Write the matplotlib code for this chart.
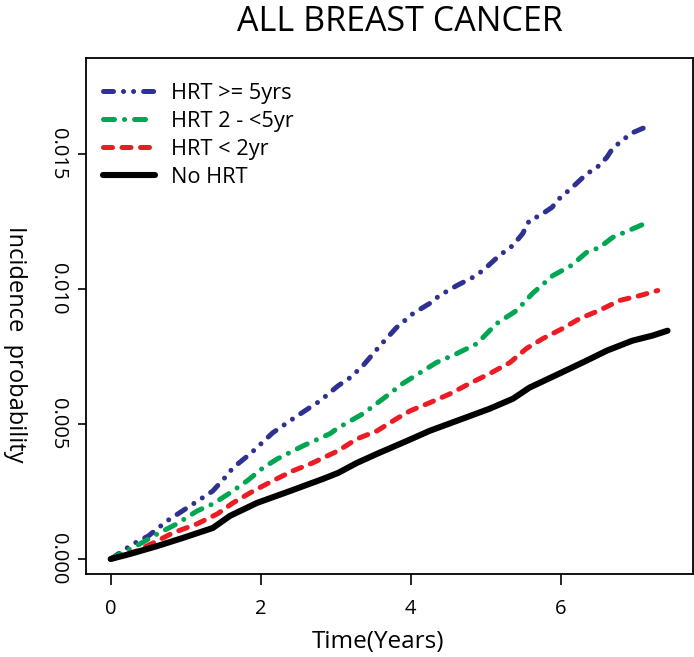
import matplotlib
matplotlib.use('Agg')
import matplotlib.pyplot as plt

plt.rcParams['font.family'] = ['Open Sans', 'DejaVu Sans']

# curves (time in years, incidence probability)
blue_x = [0, 0.30, 0.50, 0.75, 1.06, 1.36, 1.52, 1.63, 1.86, 2.16, 2.43, 2.63, 2.79,
          3.03, 3.19, 3.36, 3.59, 3.81, 4.03, 4.25, 4.38, 4.61, 4.82, 4.96, 5.18,
          5.36, 5.49, 5.58, 5.72, 5.88, 5.98, 6.15, 6.35, 6.47, 6.61, 6.69, 6.82,
          6.94, 7.09, 7.22]
blue_y = [0, 0.00056, 0.00085, 0.00141, 0.00197, 0.00252, 0.00301, 0.00338, 0.00390,
          0.00468, 0.00520, 0.00557, 0.00586, 0.00642, 0.00672, 0.00716, 0.00791,
          0.00858, 0.00910, 0.00947, 0.00976, 0.01013, 0.01043, 0.01069, 0.01125,
          0.01162, 0.01206, 0.01255, 0.01273, 0.01303, 0.01336, 0.01377, 0.01429,
          0.01448, 0.01488, 0.01522, 0.01552, 0.01578, 0.01596, 0.01607]

green_x = [0, 0.39, 0.62, 0.88, 1.15, 1.36, 1.59, 1.82, 2.03, 2.22, 2.56, 2.92, 3.03,
           3.36, 3.63, 3.89, 4.34, 4.61, 4.88, 5.14, 5.41, 5.62, 5.89, 6.14, 6.34,
           6.51, 6.69, 6.91, 7.15]
green_y = [0, 0.00056, 0.00093, 0.00130, 0.00178, 0.00204, 0.00245, 0.00290, 0.00338,
           0.00371, 0.00419, 0.00464, 0.00486, 0.00538, 0.00594, 0.00650, 0.00728,
           0.00761, 0.00798, 0.00872, 0.00921, 0.00984, 0.01050, 0.01088, 0.01136,
           0.01154, 0.01192, 0.01218, 0.01247]

red_x = [0, 0.35, 0.62, 0.83, 1.15, 1.42, 1.63, 1.90, 2.16, 2.43, 2.69, 3.03, 3.28,
         3.55, 3.81, 3.99, 4.25, 4.52, 4.78, 5.05, 5.32, 5.54, 5.76, 6.02, 6.25,
         6.51, 6.78, 7.05, 7.29]
red_y = [0, 0.00030, 0.00067, 0.00097, 0.00130, 0.00167, 0.00208, 0.00252, 0.00290,
         0.00327, 0.00356, 0.00401, 0.00445, 0.00475, 0.00520, 0.00549, 0.00579,
         0.00612, 0.00650, 0.00687, 0.00728, 0.00780, 0.00817, 0.00854, 0.00891,
         0.00921, 0.00958, 0.00976, 0.00995]

black_x = [0, 0.26, 0.62, 0.96, 1.36, 1.59, 1.95, 2.39, 2.83, 3.03, 3.28, 3.55, 3.95,
           4.25, 4.69, 5.05, 5.36, 5.58, 6.00, 6.34, 6.61, 6.95, 7.22, 7.42]
black_y = [0, 0.00019, 0.00048, 0.00078, 0.00115, 0.00160, 0.00208, 0.00252, 0.00297,
           0.00319, 0.00356, 0.00390, 0.00438, 0.00475, 0.00520, 0.00557, 0.00594,
           0.00635, 0.00690, 0.00735, 0.00772, 0.00809, 0.00828, 0.00846]

labels = ['HRT >= 5yrs', 'HRT 2 - <5yr', 'HRT < 2yr', 'No HRT']
x_ticks = [0, 2, 4, 6]
y_ticks = [0.000, 0.005, 0.010, 0.015]

fig = plt.figure(figsize=(6.94, 6.57), dpi=100)
ax = fig.add_axes([0.1235, 0.1263, 0.875, 0.785])

ax.plot(blue_x, blue_y, color='#2e3192', lw=3.6, dashes=(2.0, 2.0, 0.01, 2.0, 0.01, 2.0),
        dash_capstyle='round', solid_capstyle='round', label=labels[0])
ax.plot(green_x, green_y, color='#00a651', lw=3.6, dashes=(2.2, 2.0, 0.01, 2.0),
        dash_capstyle='round', solid_capstyle='round', label=labels[1])
ax.plot(red_x, red_y, color='#ed1c24', lw=3.6, dashes=(1.8, 1.9),
        dash_capstyle='round', solid_capstyle='round', label=labels[2])
ax.plot(black_x, black_y, color='black', lw=4.4, solid_capstyle='round', label=labels[3])

ax.set_xlim(-0.333, 7.759)
ax.set_ylim(-0.000556, 0.018556)
ax.set_xticks(x_ticks)
ax.set_xticklabels([str(t) for t in x_ticks])
ax.set_yticks(y_ticks)
ax.set_yticklabels(['%.3f' % t for t in y_ticks], rotation=-90, va='center')

ax.tick_params(axis='x', direction='out', length=8, width=1.2, pad=10, labelsize=14.5)
ax.tick_params(axis='y', direction='out', length=6, width=1.2, pad=7, labelsize=14.5)
for s in ax.spines.values():
    s.set_linewidth(1.3)

ax.legend(loc='upper left', bbox_to_anchor=(0.028, 0.953), frameon=False,
          fontsize=15.7, handlelength=2.4, handletextpad=0.75, labelspacing=0.33,
          borderpad=0, borderaxespad=0)

fig.text(400 / 694, 1 - 31 / 657, 'ALL BREAST CANCER', fontsize=24.5,
         ha='center', va='baseline')
fig.text(378 / 694, 1 - 642 / 657, 'Time(Years)', fontsize=17.5,
         ha='center', va='center')
fig.text(15 / 694, 1 - 344 / 657, 'Incidence  probability', fontsize=17,
         rotation=-90, ha='center', va='center')

fig.savefig('out.png', dpi=100)
